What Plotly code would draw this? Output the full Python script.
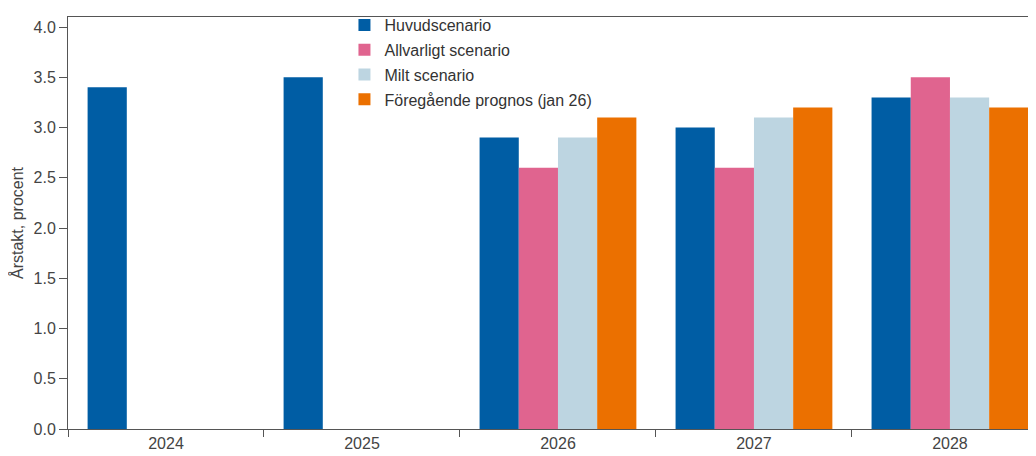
import plotly.graph_objects as go

years = ["2024", "2025", "2026", "2027", "2028"]
huvud = [3.4, 3.5, 2.9, 3.0, 3.3]
allvarligt = [None, None, 2.6, 2.6, 3.5]
milt = [None, None, 2.9, 3.1, 3.3]
foregaende = [None, None, 3.1, 3.2, 3.2]

series = [
    ("Huvudscenario", huvud, "#005DA4"),
    ("Allvarligt scenario", allvarligt, "#E0648F"),
    ("Milt scenario", milt, "#BDD5E1"),
    ("Föregående prognos (jan 26)", foregaende, "#EB7000"),
]

fig = go.Figure()
for i, (name, vals, col) in enumerate(series):
    fig.add_trace(go.Bar(x=years, y=vals, name=name, legendgroup=f"g{i}",
                         marker=dict(color=col, line=dict(width=0))))

font = "Liberation Sans, Arial, sans-serif"
fig.update_layout(
    width=1028, height=448,
    margin=dict(l=60, r=0, t=4, b=27),
    barmode="group", bargap=0.2, bargroupgap=0,
    plot_bgcolor="white", paper_bgcolor="white",
    font=dict(family=font, size=16, color="#444"),
    showlegend=True,
    legend=dict(x=0.2856, y=1.022, xanchor="left", yanchor="top",
                font=dict(size=16, color="#333"), tracegroupgap=1,
                bgcolor="rgba(0,0,0,0)", itemwidth=30),
    xaxis=dict(type="category", range=[-0.5, 4.439], showline=True, linecolor="#555",
               linewidth=1, mirror=True, ticks="outside", tickson="boundaries",
               ticklen=7, tickcolor="#555", showgrid=False,
               tickfont=dict(size=16, color="#444")),
    yaxis=dict(range=[0, 4.1], dtick=0.5, tickformat=".1f", showline=True,
               linecolor="#555", linewidth=1, ticks="outside", ticklen=8,
               tickcolor="#555", showgrid=False, zeroline=False,
               title=dict(text="Årstakt, procent", font=dict(size=16, color="#444"), standoff=6),
               tickfont=dict(size=16, color="#444")),
)
fig.write_html("out.html")
